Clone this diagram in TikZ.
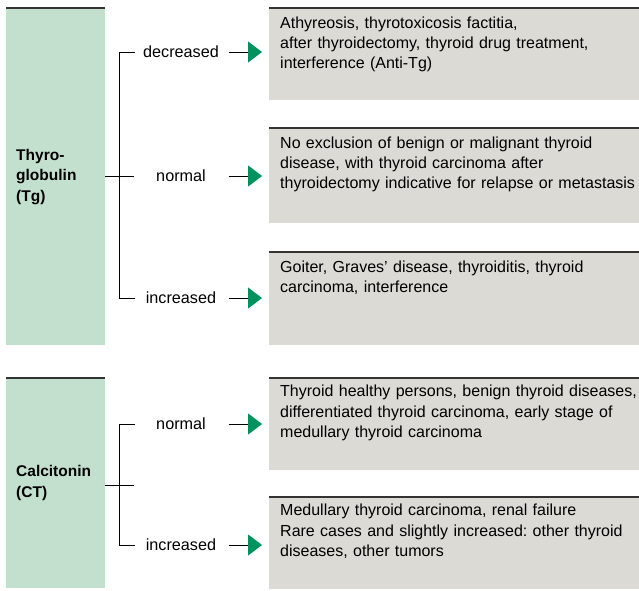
\documentclass[tikz,border=0pt]{standalone}
\usepackage{fontspec}
\setmainfont{Liberation Sans}
\usetikzlibrary{positioning,arrows.meta}
\frenchspacing

\definecolor{markergreen}{HTML}{C3E0CF}
\definecolor{resultgray}{HTML}{DBDAD4}
\definecolor{tipgreen}{HTML}{00925E}

\tikzset{
  marker/.style={fill=markergreen,anchor=north west,text width=79pt,inner xsep=10pt,
    inner ysep=0pt,align=left,font=\fontsize{15.5}{20.5}\selectfont\bfseries},
  result/.style={fill=resultgray,anchor=north west,minimum width=370pt,inner sep=0pt},
  resulttext/.style={anchor=north west,text width=365pt,align=left,inner sep=0pt,
    font=\fontsize{16}{20.2}\selectfont},
  level/.style={minimum width=86pt,inner sep=0pt,font=\fontsize{16.2}{18}\selectfont},
  topline/.style={line width=1.6pt,draw=black!80},
  bracket/.style={line width=0.9pt},
  finding/.style={line width=1pt,shorten <=5pt,shorten >=7pt,
    -{Triangle[length=14pt,width=21pt,color=tipgreen]}}
}

\begin{document}
\begin{tikzpicture}[x=1pt,y=-1pt]
\useasboundingbox (0,0) rectangle (639,590);

% thyroglobulin
\node[marker,minimum height=337pt] (tg) at (6,8) {Thyro-\\globulin\\(Tg)};
\draw[topline] (tg.north west) -- (tg.north east);

\node[result,minimum height=92pt] (tgr1) at (269,8) {};
\node[result,minimum height=95pt] (tgr2) at (269,128) {};
\node[result,minimum height=93pt] (tgr3) at (269,252) {};
\foreach \r in {tgr1,tgr2,tgr3}
  \draw[topline] (\r.north west) -- (\r.north east);

\node[resulttext] at ([xshift=11pt,yshift=-8.5pt]tgr1.north west)
  {Athyreosis, thyrotoxicosis factitia,\\after thyroidectomy, thyroid drug treatment,\\interference (Anti-Tg)};
\node[resulttext] at ([xshift=11pt,yshift=-8.5pt]tgr2.north west)
  {No exclusion of benign or malignant thyroid\\disease, with thyroid carcinoma after\\thyroidectomy indicative for relapse or metastasis};
\node[resulttext] at ([xshift=11pt,yshift=-8.5pt]tgr3.north west)
  {Goiter, Graves' disease, thyroiditis, thyroid\\carcinoma, interference};

\node[level] (tgdec) at (181,52) {decreased};
\node[level] (tgnor) at (181,176) {normal};
\node[level] (tginc) at (181,298) {increased};

\draw[bracket] ([xshift=-3pt]tgdec.west) -| ([xshift=-18pt]tginc.west) -- ([xshift=-3pt]tginc.west);
\draw[bracket] (tg.east |- tgnor) -- ([xshift=-4pt]tgnor.west);

\draw[finding] (tgdec.east) -- (tgr1.west |- tgdec);
\draw[finding] (tgnor.east) -- (tgr2.west |- tgnor);
\draw[finding] (tginc.east) -- (tgr3.west |- tginc);

% calcitonin
\node[marker,minimum height=210pt] (ct) at (6,378) {Calcitonin\\(CT)};
\draw[topline] (ct.north west) -- (ct.north east);

\node[result,minimum height=92pt] (ctr1) at (269,378) {};
\node[result,minimum height=92pt] (ctr2) at (269,497) {};
\foreach \r in {ctr1,ctr2}
  \draw[topline] (\r.north west) -- (\r.north east);

\node[resulttext] at ([xshift=11pt,yshift=-7pt]ctr1.north west)
  {Thyroid healthy persons, benign thyroid diseases,\\differentiated thyroid carcinoma, early stage of\\medullary thyroid carcinoma};
\node[resulttext] at ([xshift=11pt,yshift=-7pt]ctr2.north west)
  {Medullary thyroid carcinoma, renal failure\\Rare cases and slightly increased: other thyroid\\diseases, other tumors};

\node[level] (ctnor) at (181,424) {normal};
\node[level] (ctinc) at (181,545) {increased};

\draw[bracket] ([xshift=-3pt]ctnor.west) -| ([xshift=-18pt]ctinc.west) -- ([xshift=-3pt]ctinc.west);
\draw[bracket] (ct.east |- 0,485) -- ([xshift=-4pt]ctnor.west |- 0,485);

\draw[finding] (ctnor.east) -- (ctr1.west |- ctnor);
\draw[finding] (ctinc.east) -- (ctr2.west |- ctinc);
\end{tikzpicture}
\end{document}
